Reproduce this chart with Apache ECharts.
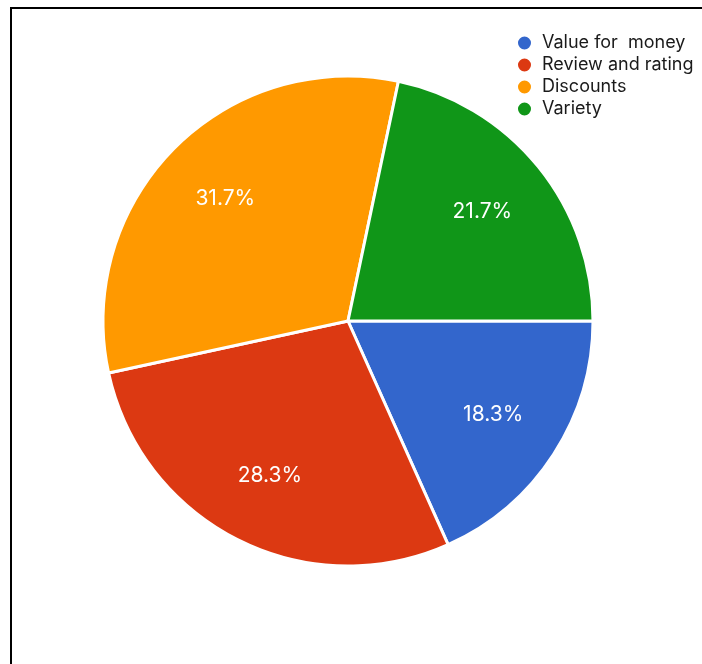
<!DOCTYPE html>
<html>
<head>
<meta charset="utf-8">
<script src="https://cdn.jsdelivr.net/npm/echarts@6/dist/echarts.min.js"></script>
<style>
  html, body { margin: 0; padding: 0; background: #fff; }
  #chart { width: 702px; height: 664px; }
</style>
</head>
<body>
<div id="chart"></div>
<script>
// Shopping preference survey shares (percent of responses)
const categories = ['Value for  money', 'Review and rating', 'Discounts', 'Variety'];
const shares = [18.3, 28.3, 31.7, 21.7];
const colors = ['#3366CC', '#DC3912', '#FF9900', '#109618'];

const pieData = categories.map((name, i) => ({ name, value: shares[i] }));

const chart = echarts.init(document.getElementById('chart'));
chart.setOption({
  animation: false,
  color: colors,
  // frame lines along the top and left edges
  graphic: [
    { type: 'line', shape: { x1: 10, y1: 8, x2: 702, y2: 8 }, style: { stroke: '#000', lineWidth: 2 } },
    { type: 'line', shape: { x1: 11, y1: 7, x2: 11, y2: 664 }, style: { stroke: '#000', lineWidth: 2 } }
  ],
  legend: {
    orient: 'vertical',
    left: 516,
    top: 33,
    padding: 0,
    icon: 'circle',
    itemWidth: 15,
    itemHeight: 15,
    itemGap: 2,
    textStyle: { fontFamily: 'Inter', fontSize: 18, lineHeight: 20, color: '#1a1a1a', padding: [0, 0, 0, 5] },
    data: categories
  },
  series: [
    {
      // filled slices
      type: 'pie',
      center: [348, 321],
      radius: [0, 245],
      startAngle: 0,
      clockwise: true,
      itemStyle: { borderColor: '#fff', borderWidth: 3 },
      label: { show: false },
      labelLine: { show: false },
      emphasis: { disabled: true },
      data: pieData
    },
    {
      // transparent ring carrying the percentage labels at ~0.7 of the radius
      type: 'pie',
      center: [348, 321],
      radius: [95, 245],
      startAngle: 0,
      clockwise: true,
      silent: true,
      legendHoverLink: false,
      itemStyle: { color: 'rgba(0,0,0,0)', borderWidth: 0 },
      label: {
        show: true,
        position: 'inside',
        formatter: p => p.value.toFixed(1) + '%',
        color: '#fff',
        fontFamily: 'Inter',
        fontSize: 21
      },
      labelLine: { show: false },
      emphasis: { disabled: true },
      data: pieData
    }
  ]
});
</script>
</body>
</html>
